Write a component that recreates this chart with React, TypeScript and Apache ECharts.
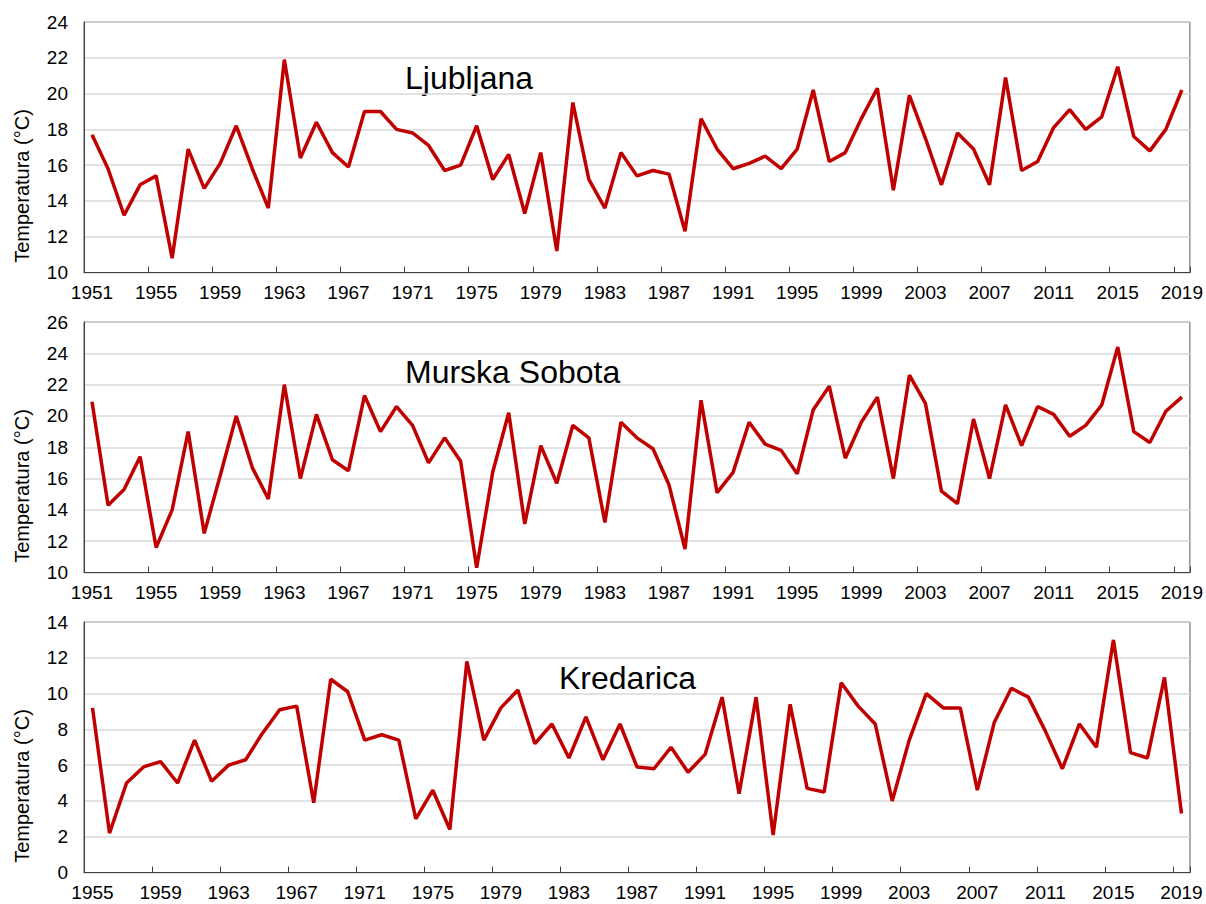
import React, { useEffect, useRef } from "react";
import * as echarts from "echarts";

const yearsA: string[] = [];
for (let y = 1951; y <= 2019; y++) yearsA.push(String(y));
const yearsK: string[] = [];
for (let y = 1955; y <= 2019; y++) yearsK.push(String(y));

const ljubljana = [
  17.7, 15.8, 13.2, 14.9, 15.4, 10.8, 16.9, 14.7, 16.1, 18.2,
  15.8, 13.6, 21.9, 16.4, 18.4, 16.7, 15.9, 19.0, 19.0, 18.0,
  17.8, 17.1, 15.7, 16.0, 18.2, 15.2, 16.6, 13.3, 16.7, 11.2,
  19.5, 15.2, 13.6, 16.7, 15.4, 15.7, 15.5, 12.3, 18.6, 16.9,
  15.8, 16.1, 16.5, 15.8, 16.9, 20.2, 16.2, 16.7, 18.6, 20.3,
  14.6, 19.9, 17.5, 14.9, 17.8, 16.9, 14.9, 20.9, 15.7, 16.2,
  18.1, 19.1, 18.0, 18.7, 21.5, 17.6, 16.8, 18.0, 20.2,
];

const murskaSobota = [
  20.9, 14.3, 15.3, 17.4, 11.6, 14.0, 19.0, 12.5, 16.2, 20.0,
  16.7, 14.7, 22.0, 16.0, 20.1, 17.2, 16.5, 21.3, 19.0, 20.6,
  19.4, 17.0, 18.6, 17.1, 10.3, 16.4, 20.2, 13.1, 18.1, 15.7,
  19.4, 18.6, 13.2, 19.6, 18.6, 17.9, 15.6, 11.5, 21.0, 15.1,
  16.4, 19.6, 18.2, 17.8, 16.3, 20.4, 21.9, 17.3, 19.6, 21.2,
  16.0, 22.6, 20.8, 15.2, 14.4, 19.8, 16.0, 20.7, 18.1, 20.6,
  20.1, 18.7, 19.4, 20.7, 24.4, 19.0, 18.3, 20.3, 21.2,
];

const kredarica = [
  9.2, 2.2, 5.0, 5.9, 6.2, 5.0, 7.4, 5.1, 6.0, 6.3,
  7.8, 9.1, 9.3, 3.9, 10.8, 10.1, 7.4, 7.7, 7.4, 3.0,
  4.6, 2.4, 11.8, 7.4, 9.2, 10.2, 7.2, 8.3, 6.4, 8.7,
  6.3, 8.3, 5.9, 5.8, 7.0, 5.6, 6.6, 9.8, 4.4, 9.8,
  2.1, 9.4, 4.7, 4.5, 10.6, 9.3, 8.3, 4.0, 7.4, 10.0,
  9.2, 9.2, 4.6, 8.4, 10.3, 9.8, 7.9, 5.8, 8.3, 7.0,
  13.0, 6.7, 6.4, 10.9, 3.3,
];

const stationNames = ["Ljubljana", "Murska Sobota", "Kredarica"];
const yRanges = [
  [10, 24],
  [10, 26],
  [0, 14],
];
const yAxisTitle = "Temperatura (°C)";

const FONT = "'Liberation Sans', Arial, sans-serif";
const GRID_TOPS = [22, 322, 622];
const GRID_H = 250.5;

export default function App() {
  const ref = useRef<HTMLDivElement>(null);
  useEffect(() => {
    if (!ref.current) return;
    const chart = echarts.init(ref.current, undefined, { renderer: "svg" });
    const cats = [yearsA, yearsA, yearsK];
    const datas = [ljubljana, murskaSobota, kredarica];
    const titlePos = [
      [405, 78],
      [405, 372],
      [559, 678],
    ];
    const grid = GRID_TOPS.map((t) => ({
      left: 84,
      right: 16,
      top: t,
      height: GRID_H,
      show: true,
      borderColor: "#595959",
      borderWidth: 1,
      backgroundColor: "transparent",
    }));
    const xAxis = cats.map((c, i) => ({
      type: "category",
      gridIndex: i,
      data: c,
      boundaryGap: true,
      axisLine: { show: true, lineStyle: { color: "#404040", width: 1 } },
      axisTick: {
        show: true,
        inside: true,
        length: 6,
        interval: 3,
        alignWithLabel: false,
        lineStyle: { color: "#404040" },
      },
      axisLabel: {
        interval: 3,
        fontSize: 19,
        color: "#000",
        fontFamily: FONT,
        margin: 10,
      },
      splitLine: { show: false },
    }));
    const yAxis = yRanges.map((r, i) => ({
      type: "value",
      gridIndex: i,
      min: r[0],
      max: r[1],
      interval: 2,
      axisLine: { show: true, lineStyle: { color: "#404040", width: 1 } },
      axisTick: { show: false },
      axisLabel: {
        fontSize: 19,
        color: "#000",
        fontFamily: FONT,
        margin: 16,
      },
      splitLine: { show: true, lineStyle: { color: "#d9d9d9", width: 1.5 } },
    }));
    const series = datas.map((d, i) => ({
      type: "line",
      xAxisIndex: i,
      yAxisIndex: i,
      data: d,
      symbol: "none",
      lineStyle: { color: "#c00000", width: 3.5 },
      itemStyle: { color: "#c00000" },
    }));
    const graphic: any[] = [];
    stationNames.forEach((n, i) => {
      graphic.push({
        type: "text",
        x: titlePos[i][0],
        y: titlePos[i][1],
        style: {
          text: n,
          fontSize: 32,
          fontFamily: FONT,
          fill: "#000",
          textAlign: "left",
          textVerticalAlign: "middle",
        },
      });
      graphic.push({
        type: "text",
        x: 22,
        y: GRID_TOPS[i] + 164,
        rotation: Math.PI / 2,
        style: {
          text: yAxisTitle,
          fontSize: 20,
          fontFamily: FONT,
          fill: "#000",
          textAlign: "center",
          textVerticalAlign: "middle",
        },
      });
    });
    chart.setOption({
      animation: false,
      backgroundColor: "#fff",
      grid,
      xAxis,
      yAxis,
      series,
      graphic,
    });
    return () => chart.dispose();
  }, []);
  return (
    <div
      ref={ref}
      style={{ position: "fixed", left: 0, top: 0, width: 1206, height: 904 }}
    />
  );
}
